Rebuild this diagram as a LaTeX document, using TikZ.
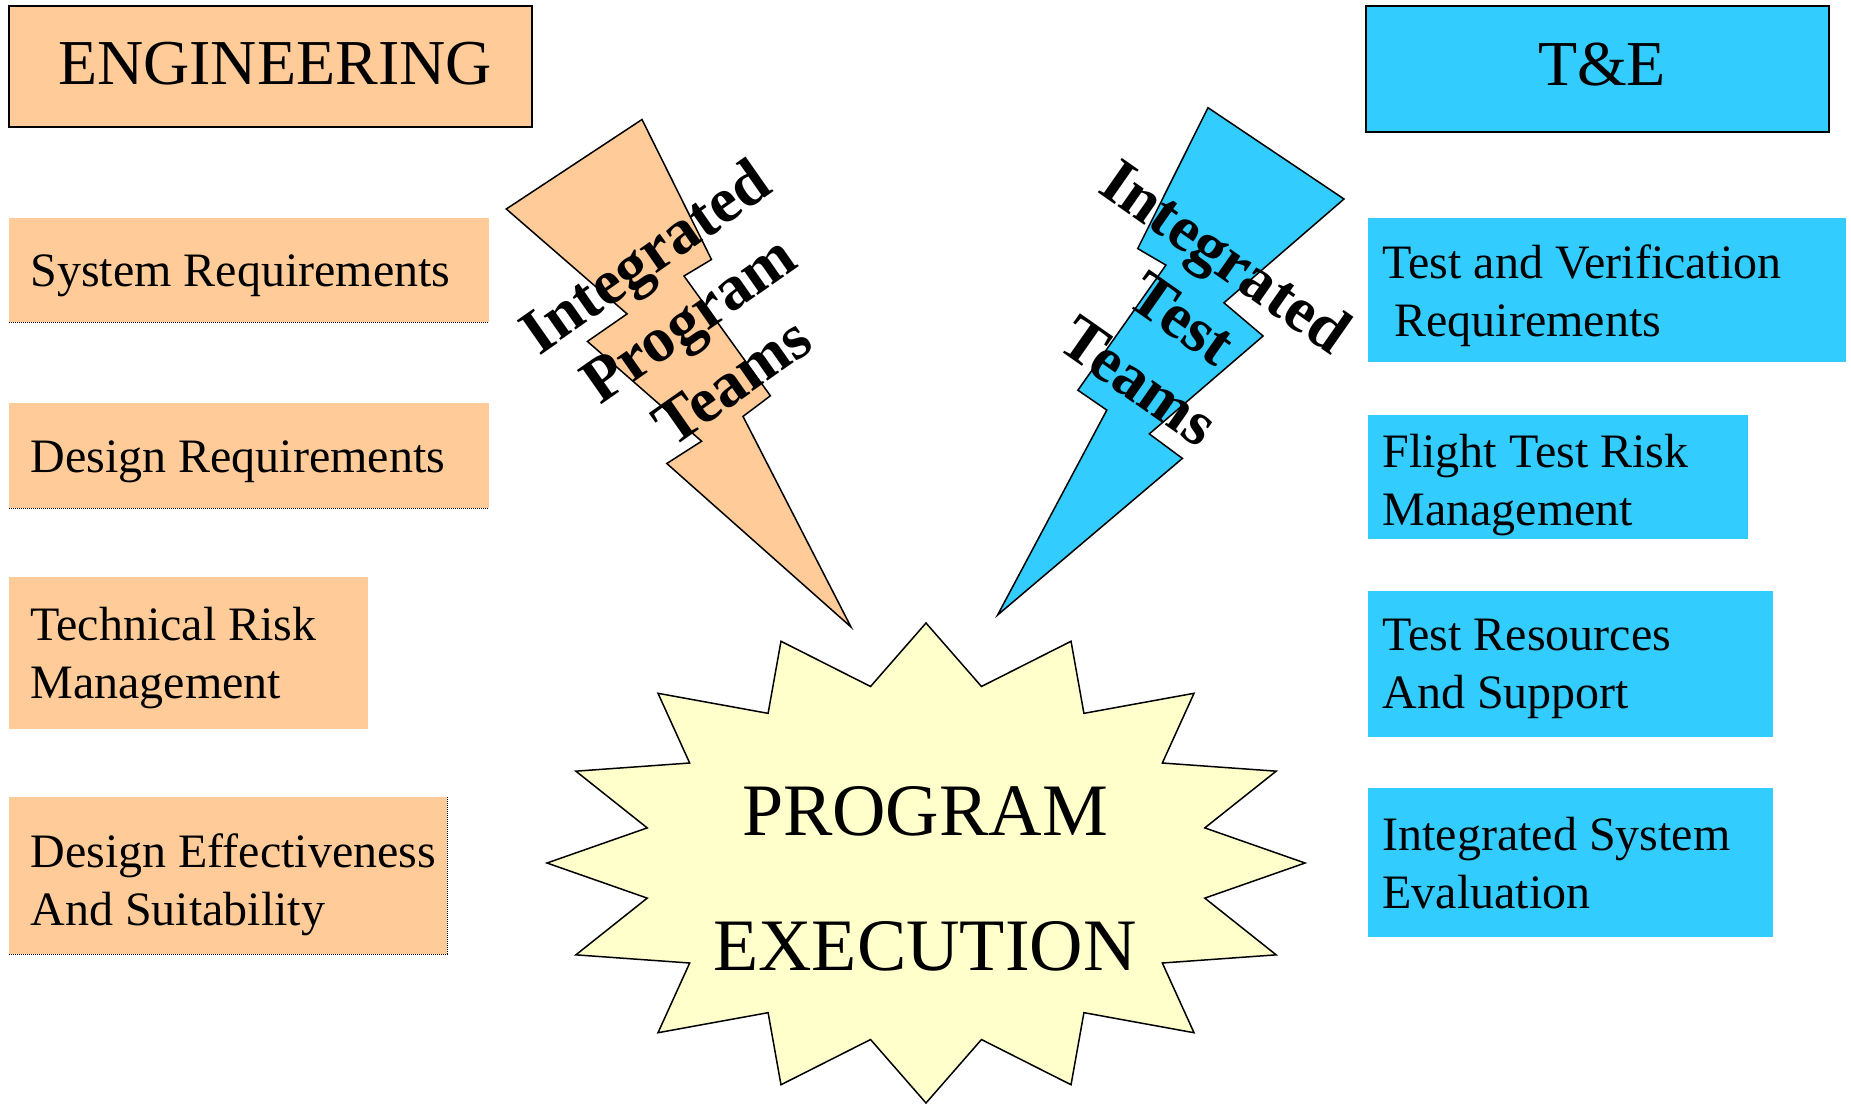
\documentclass[tikz,border=0pt]{standalone}
\usepackage{fontspec}
\setmainfont{Liberation Serif}

\definecolor{engpeach}{RGB}{255,204,153}
\definecolor{teblue}{RGB}{51,204,255}
\definecolor{starcream}{RGB}{255,255,204}

\tikzset{
  headbox/.style={draw=black, line width=1pt},
  dotline/.style={line width=0.5pt, dash pattern=on 0.5pt off 0.5pt},
  outline/.style={draw=black, line width=0.75pt, line join=miter},
  headtext/.style={font=\fontsize{32}{38}\selectfont, inner sep=0pt},
  itemtext/.style={font=\fontsize{24}{29}\selectfont, align=left, inner sep=0pt, anchor=west},
  bolttext/.style={font=\bfseries\fontsize{32}{38}\selectfont, align=center, inner sep=0pt},
  bigtext/.style={font=\fontsize{37}{44}\selectfont, inner sep=0pt},
}

\begin{document}
\begin{tikzpicture}[x=0.5pt,y=0.5pt,yscale=-1,xscale=1]
\useasboundingbox (0,0) rectangle (1851,1103);

%Shape: Rectangle [ENGINEERING header]
\draw[headbox, fill=engpeach] (9,6) rectangle (532,127);
%Shape: Rectangle [T&E header]
\draw[headbox, fill=teblue] (1366,6) rectangle (1829,132);

%Shape: Rectangle [engineering items]
\fill[engpeach] (9,218) rectangle (489,322);
\draw[dotline] (9,322) -- (489,322);
\fill[engpeach] (9,403) rectangle (489,508);
\draw[dotline] (9,508) -- (489,508);
\fill[engpeach] (9,577) rectangle (368,729);
\fill[engpeach] (9,797) rectangle (447,954);
\draw[dotline] (447,797) -- (447,954) -- (9,954);

%Shape: Rectangle [T&E items]
\fill[teblue] (1368,218) rectangle (1846,362);
\fill[teblue] (1368,415) rectangle (1748,539);
\fill[teblue] (1368,591) rectangle (1773,737);
\fill[teblue] (1368,788) rectangle (1773,937);

%Shape: Bolt [left]
\draw[outline, fill=engpeach] (642,119.5) -- (711.5,259.5) -- (684,276) -- (770.4,395.8) -- (743,416.4) -- (851,627) -- (666.8,463.5) -- (701.6,441.2) -- (587.4,341.4) -- (627.1,313.9) -- (506.3,209) -- cycle;
%Shape: Bolt [right]
\draw[outline, fill=teblue] (1208,107.7) -- (1344,199) -- (1223.9,302.8) -- (1263.1,336) -- (1149.3,433.9) -- (1182.4,458.4) -- (997.6,615) -- (1106.8,410.1) -- (1077.9,390.2) -- (1165.9,265.1) -- (1137.7,248.6) -- cycle;

%Shape: Star 16 points
\draw[outline, fill=starcream] (1305,863) \foreach \k in {1,...,31}{ -- ({926+379*(1-0.25*mod(\k,2))*cos(\k*11.25)},{863+240*(1-0.25*mod(\k,2))*sin(\k*11.25)}) } -- cycle;

% Text Node
\node[headtext] (engineering) at (275,64) {ENGINEERING};
% Text Node
\node[headtext] (tande) at (1602,65) {T\&E};
% Text Node
\node[itemtext] (sysreq) at (30,275.8) {System Requirements};
% Text Node
\node[itemtext] (desreq) at (30,461.8) {Design Requirements};
% Text Node
\node[itemtext] (techrisk) at (30,657.8) {Technical Risk\\Management};
% Text Node
\node[itemtext] (deseff) at (30,884.8) {Design Effectiveness\\And Suitability};
% Text Node
\node[itemtext] (tvreq) at (1382,295.8) {Test and Verification\\\hspace{0.25em}Requirements};
% Text Node
\node[itemtext] (ftrisk) at (1382,484.8) {Flight Test Risk\\Management};
% Text Node
\node[itemtext] (testres) at (1382,669.3) {Test Resources\\And Support};
% Text Node
\node[itemtext] (intsys) at (1382,863.1) {Integrated System\\Evaluation};
% Text Node
\node[bolttext, rotate=35] (iptteams) at (688,318) {Integrated\\Program\\Teams};
% Text Node
\node[bolttext, rotate=-35] (ittteams) at (1183,318) {Integrated\\Test\\Teams};
% Text Node
\node[bigtext] (program) at (925,811) {PROGRAM};
% Text Node
\node[bigtext] (execution) at (925,946) {EXECUTION};

\end{tikzpicture}
\end{document}
